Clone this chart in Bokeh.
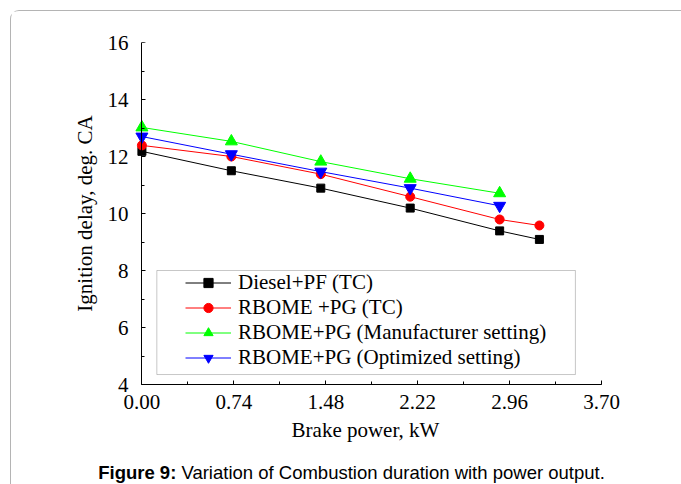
from bokeh.plotting import figure
from bokeh.models import (Range1d, FixedTicker, Legend, LegendItem, Div,
                          BoxAnnotation, CustomJSTickFormatter, LinearAxis)
from bokeh.layouts import column
from bokeh.embed import file_html
from bokeh.resources import INLINE

# ---- data ----
power = [0.00, 0.72, 1.44, 2.16, 2.88, 3.20]
power5 = [0.00, 0.72, 1.44, 2.16, 2.88]
diesel_pf_tc = [12.18, 11.50, 10.89, 10.19, 9.39, 9.09]
rbome_pg_tc = [12.39, 12.00, 11.38, 10.59, 9.79, 9.58]
rbome_pg_manuf = [13.02, 12.53, 11.82, 11.22, 10.71]
rbome_pg_opt = [12.70, 12.08, 11.47, 10.89, 10.27]
x_ticks = [0.00, 0.74, 1.48, 2.22, 2.96, 3.70]
y_ticks = [4, 6, 8, 10, 12, 14, 16]
series_names = ["Diesel+PF (TC)", "RBOME +PG (TC)",
                "RBOME+PG (Manufacturer setting)", "RBOME+PG (Optimized setting)"]

SERIF = "Liberation Serif"

p = figure(width=671, height=446,
           output_backend="svg", toolbar_location=None,
           x_range=Range1d(-0.1, 3.7), y_range=Range1d(4, 16),
           y_axis_location=None,
           min_border_left=118, min_border_right=81,
           min_border_top=31, min_border_bottom=73)
p.outline_line_color = None
p.grid.grid_line_color = None
p.background_fill_color = "white"
p.border_fill_color = "white"

# y axis line + ticks at x = 0 (inside the frame)
ya_line = LinearAxis(fixed_location=0,
                     ticker=FixedTicker(ticks=y_ticks, minor_ticks=list(range(4, 17))))
ya_line.major_label_text_alpha = 0
# y axis labels in the left panel
ya_lab = LinearAxis(ticker=FixedTicker(ticks=y_ticks, minor_ticks=[]),
                    axis_label="Ignition delay, deg. CA")
ya_lab.axis_line_color = None
ya_lab.major_tick_line_color = None
ya_lab.minor_tick_line_color = None
ya_lab.major_tick_in = 0
ya_lab.major_tick_out = 0
ya_lab.minor_tick_in = 0
ya_lab.minor_tick_out = 0
ya_lab.major_label_standoff = 1
ya_lab.axis_label_standoff = 8
p.add_layout(ya_lab, "left")
p.add_layout(ya_line, "left")

xa = p.xaxis[0]
xa.bounds = (0, 3.7)
xa.ticker = FixedTicker(ticks=x_ticks, minor_ticks=[i * 0.37 for i in range(11)])
xa.formatter = CustomJSTickFormatter(code="return tick.toFixed(2);")
xa.axis_label = "Brake power, kW"
xa.major_label_standoff = 10
xa.axis_label_standoff = 6

for ax in (xa, ya_line):
    ax.axis_line_color = "black"
    ax.axis_line_width = 1
    ax.major_tick_in = 4
    ax.major_tick_out = 0
    ax.minor_tick_in = 3
    ax.minor_tick_out = 0
    ax.major_tick_line_color = "black"
    ax.minor_tick_line_color = "black"
for ax in (xa, ya_lab):
    ax.major_label_text_font = SERIF
    ax.major_label_text_font_size = "21px"
    ax.major_label_text_color = "black"
    ax.axis_label_text_font = SERIF
    ax.axis_label_text_font_size = "21px"
    ax.axis_label_text_font_style = "normal"
    ax.axis_label_text_color = "black"

# series
r1l = p.line(power, diesel_pf_tc, color="black", line_width=1)
r1m = p.scatter(power, diesel_pf_tc, marker="square", size=8, color="black")
r2l = p.line(power, rbome_pg_tc, color="#ff0000", line_width=1)
r2m = p.scatter(power, rbome_pg_tc, marker="circle", size=9, color="#ff0000")
r3l = p.line(power5, rbome_pg_manuf, color="#00ff00", line_width=1)
r3m = p.scatter(power5, rbome_pg_manuf, marker="triangle", size=12, color="#00ff00")
r4l = p.line(power5, rbome_pg_opt, color="#0000ff", line_width=1)
r4m = p.scatter(power5, rbome_pg_opt, marker="inverted_triangle", size=12, color="#0000ff")

# legend frame
p.add_layout(BoxAnnotation(left=0.12, right=3.49, top=8.0, bottom=4.35,
                           fill_alpha=0, line_color="#444444", line_width=1))

legend = Legend(items=[
    LegendItem(label=series_names[0], renderers=[r1l, r1m]),
    LegendItem(label=series_names[1], renderers=[r2l, r2m]),
    LegendItem(label=series_names[2], renderers=[r3l, r3m]),
    LegendItem(label=series_names[3], renderers=[r4l, r4m]),
], location=(52, 10))
legend.border_line_alpha = 0
legend.background_fill_alpha = 0
legend.padding = 4
legend.spacing = 0
legend.margin = 0
legend.glyph_width = 46
legend.glyph_height = 23
legend.label_height = 23
legend.label_standoff = 7
legend.label_text_font = SERIF
legend.label_text_font_size = "21px"
legend.label_text_color = "black"
p.add_layout(legend, "center")

caption = Div(text="<b>Figure 9:</b> Variation of Combustion duration with power output.",
              width=671, height=24,
              styles={"font-family": "Liberation Sans", "font-size": "18.5px",
                      "color": "black", "text-align": "center",
                      "width": "671px", "line-height": "21px"})

layout = column(p, caption, margin=(10, 0, 0, 10), spacing=0,
                styles={"border-top": "1px solid #b4b4b4",
                        "border-left": "1px solid #b4b4b4",
                        "border-top-left-radius": "9px",
                        "background-color": "white"})

open("out.html", "w").write(file_html(layout, INLINE))
